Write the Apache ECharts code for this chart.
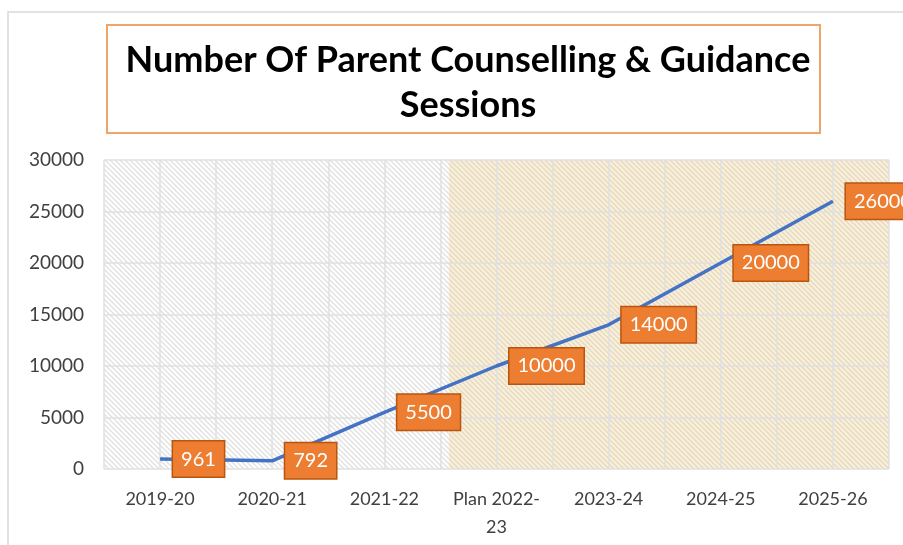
<!DOCTYPE html>
<html>
<head>
<meta charset="utf-8">
<script src="https://cdn.jsdelivr.net/npm/echarts@6/dist/echarts.min.js"></script>
<style>
  html, body { margin: 0; padding: 0; background: #fff; }
  #chart { width: 903px; height: 545px; }
</style>
</head>
<body>
<div id="chart"></div>
<script>
// data
var categories = ["2019-20", "2020-21", "2021-22", "Plan 2022-23", "2023-24", "2024-25", "2025-26"];
var sessions = [961, 792, 5500, 10000, 14000, 20000, 26000];
var yTicks = [0, 5000, 10000, 15000, 20000, 25000, 30000];
var planStart = 6.15; // in half-category units, where the beige "plan" band starts

// diagonal hatch pattern
function hatch(bg, line) {
  var c = document.createElement("canvas");
  c.width = 5;
  c.height = 5;
  var ctx = c.getContext("2d");
  ctx.fillStyle = bg;
  ctx.fillRect(0, 0, 5, 5);
  ctx.strokeStyle = line;
  ctx.lineWidth = 1.3;
  ctx.beginPath();
  ctx.moveTo(-1, -1); ctx.lineTo(6, 6);
  ctx.moveTo(-1, 4); ctx.lineTo(1, 6);
  ctx.moveTo(4, -1); ctx.lineTo(6, 1);
  ctx.stroke();
  return c;
}

var myChart = echarts.init(document.getElementById("chart"));
var font = "Lato, 'Open Sans', sans-serif";

var option = {
  backgroundColor: "#fff",
  animation: false,
  title: {
    text: "Number Of Parent Counselling & Guidance\nSessions",
    left: 463,
    top: 33,
    textAlign: "center",
    textStyle: {
      fontFamily: font,
      fontSize: 36,
      fontWeight: "bold",
      color: "#000",
      lineHeight: 45
    }
  },
  graphic: [
    {
      type: "rect",
      shape: { x: 8, y: 12, width: 1000, height: 1000 },
      style: { fill: null, stroke: "#d9d9d9", lineWidth: 1.5 },
      silent: true,
      z: -10
    },
    {
      type: "rect",
      shape: { x: 107, y: 25, width: 713, height: 108 },
      style: { fill: null, stroke: "#f0a468", lineWidth: 2 },
      silent: true
    }
  ],
  grid: {
    left: 104,
    right: 14,
    top: 160,
    bottom: 76
  },
  xAxis: [
    {
      type: "category",
      data: categories,
      boundaryGap: true,
      axisLine: { show: false },
      axisTick: { show: false },
      splitLine: { show: false },
      axisLabel: {
        interval: 0,
        margin: 16,
        fontFamily: font,
        fontSize: 18,
        lineHeight: 28,
        color: "#404040",
        formatter: function (v) {
          return v === "Plan 2022-23" ? "Plan 2022-\n23" : v;
        }
      }
    },
    {
      // helper axis for half-category grid lines and the plan band
      type: "value",
      min: 0,
      max: categories.length * 2,
      interval: 1,
      position: "bottom",
      axisLine: { show: false },
      axisTick: { show: false },
      axisLabel: { show: false },
      splitLine: { show: true, lineStyle: { color: "#e0e0e0", width: 1.5 } },
      z: 3
    }
  ],
  yAxis: {
    type: "value",
    min: yTicks[0],
    max: yTicks[yTicks.length - 1],
    interval: 5000,
    axisLine: { show: false },
    axisTick: { show: false },
    axisLabel: {
      margin: 20,
      fontFamily: font,
      fontSize: 19,
      color: "#404040",
      formatter: function (v) { return String(v); }
    },
    splitLine: { lineStyle: { color: "#e0e0e0", width: 1.5 } },
    z: 3
  },
  series: [
    {
      type: "line",
      xAxisIndex: 1,
      data: [],
      silent: true,
      z: -1,
      markArea: {
        silent: true,
        data: [
          [
            { xAxis: 0, itemStyle: { color: { image: hatch("#ffffff", "#e0e0e0"), repeat: "repeat" } } },
            { xAxis: planStart }
          ],
          [
            { xAxis: planStart, itemStyle: { color: { image: hatch("#f8f0de", "#e7d8ba"), repeat: "repeat" } } },
            { xAxis: categories.length * 2 }
          ]
        ]
      }
    },
    {
      type: "line",
      data: sessions,
      z: 5,
      symbol: "circle",
      symbolSize: 2,
      showSymbol: true,
      itemStyle: { color: "rgba(0,0,0,0)", borderWidth: 0 },
      lineStyle: { color: "#4472c4", width: 3.5 },
      label: {
        show: true,
        position: "right",
        distance: 12,
        fontFamily: font,
        fontSize: 20,
        color: "#ffffff",
        backgroundColor: "#ed7d31",
        borderColor: "#b8560f",
        borderWidth: 1.5,
        padding: [8, 8, 7, 8]
      }
    }
  ]
};

myChart.setOption(option);
</script>
</body>
</html>
